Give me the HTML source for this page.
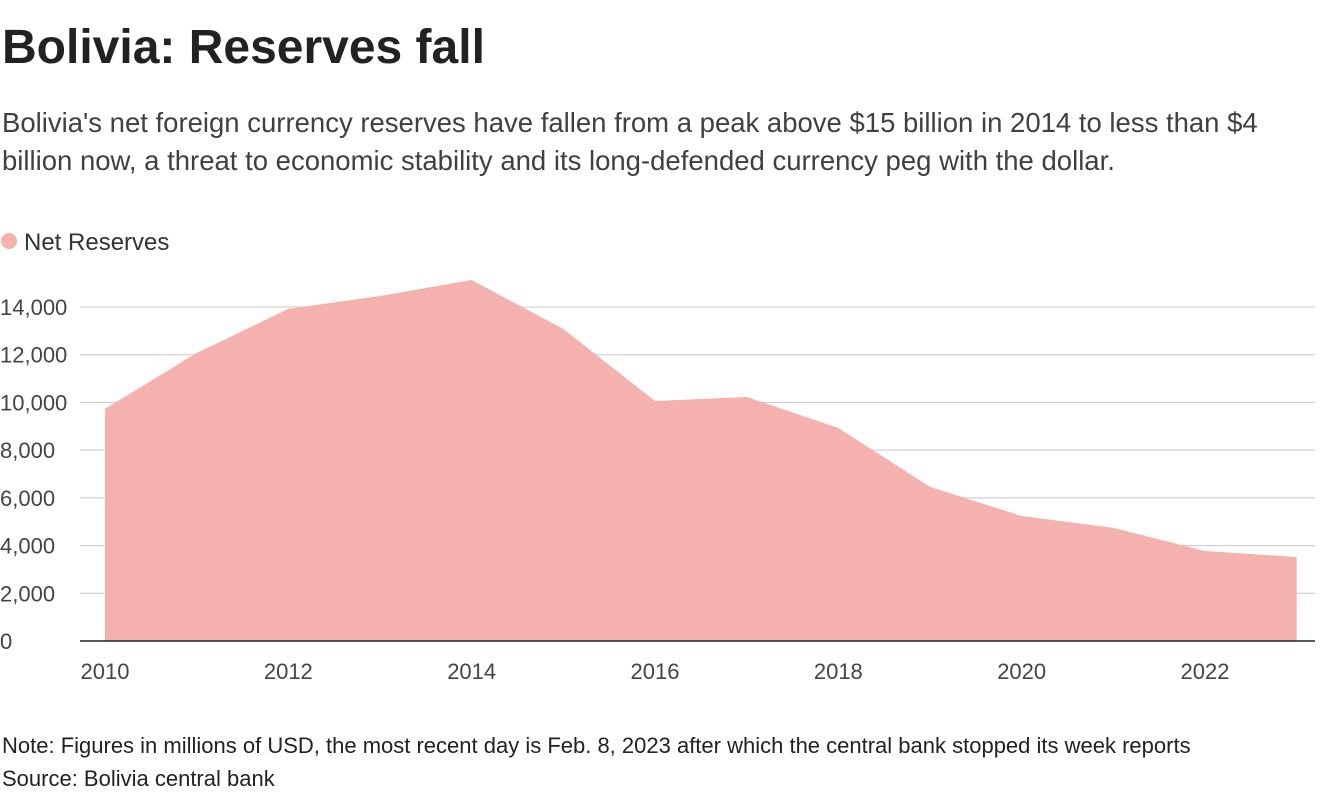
<!DOCTYPE html>
<html><head><meta charset="utf-8"><style>
body{margin:0;width:1320px;height:800px;background:#fff;font-family:"Liberation Sans",sans-serif;color:#333;overflow:hidden;position:relative}
.t{position:absolute;left:2px;top:20px;font-size:48px;font-weight:bold;color:#222;margin:0}
.s{position:absolute;left:2px;top:104px;font-size:27.5px;line-height:38px;color:#404040;width:1318px;margin:0}
.n{position:absolute;left:2px;font-size:22px;color:#222}
</style></head><body>
<h1 class="t">Bolivia: Reserves fall</h1>
<p class="s">Bolivia's net foreign currency reserves have fallen from a peak above $15 billion in 2014 to less than $4 billion now, a threat to economic stability and its long-defended currency peg with the dollar.</p>
<svg id="c" width="1320" height="800" style="position:absolute;left:0;top:0">
<circle cx="9" cy="241" r="8" fill="#f4b1ad"/>
<text x="24" y="250" font-size="24" fill="#333" font-family="Liberation Sans">Net Reserves</text>
</svg>
<div class="n" style="top:733px">Note: Figures in millions of USD, the most recent day is Feb. 8, 2023 after which the central bank stopped its week reports</div>
<div class="n" style="top:766px">Source: Bolivia central bank</div>
<script>
const years=[2010,2011,2012,2013,2014,2015,2016,2017,2018,2019,2020,2021,2022,2023];
const reserves=[9730,12070,13920,14460,15130,13080,10060,10230,8930,6460,5240,4740,3770,3520];
const yTicks=[0,2000,4000,6000,8000,10000,12000,14000];
const xTicks=[2010,2012,2014,2016,2018,2020,2022];
const svg=document.getElementById('c');const NS='http://www.w3.org/2000/svg';
const x=v=>105+(v-2010)*(1100/12);
const y=v=>641-v*(334/14000);
function mk(t,a){const e=document.createElementNS(NS,t);for(const k in a)e.setAttribute(k,a[k]);svg.appendChild(e);return e;}
yTicks.forEach(v=>{
 if(v>0){const l=mk('line',{x1:80,x2:1315,y1:y(v),y2:y(v),stroke:'#c8c8c8','stroke-width':1});
 
 }
 const t=mk('text',{x:0,y:y(v)+8,'font-size':22,fill:'#444','font-family':'Liberation Sans'});t.textContent=v.toLocaleString('en-US');
 
 
});
let d='M'+x(years[0])+','+y(0);
years.forEach((yr,i)=>{d+=' L'+x(yr)+','+y(reserves[i]);});
d+=' L'+x(years[years.length-1])+','+y(0)+' Z';
const a=mk('path',{d:d,fill:'#f4b1ad'});


const ax=mk('line',{x1:80,x2:1315,y1:y(0),y2:y(0),stroke:'#222','stroke-width':1.5});


xTicks.forEach(v=>{
 const t=mk('text',{x:x(v),y:679,'font-size':22,fill:'#444','text-anchor':'middle','font-family':'Liberation Sans'});t.textContent=v;
 
 
});
</script>
</body></html>
